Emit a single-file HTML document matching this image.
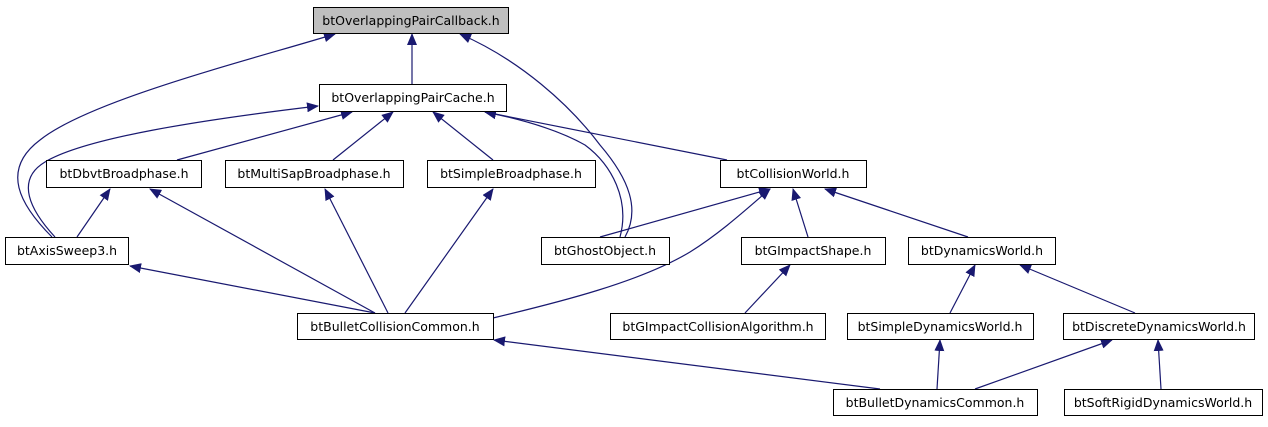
<!DOCTYPE html>
<html><head><meta charset="utf-8"><style>
html,body{margin:0;padding:0;background:#fff;}
svg{display:block;}
text{font-family:"DejaVu Sans","Liberation Sans",sans-serif;font-size:12.5px;fill:#000;}
</style></head><body>
<svg width="1268" height="427" viewBox="0 0 1268 427" xmlns="http://www.w3.org/2000/svg">
<defs><marker id="a" markerWidth="12" markerHeight="10" refX="11" refY="5" orient="auto" markerUnits="userSpaceOnUse"><polygon points="0,0 12,5 0,10" fill="#191970"/></marker></defs>
<g fill="none" stroke="#191970" stroke-width="1.2" marker-end="url(#a)">
<path d="M412,84 L412,34"/>
<path d="M52,237 C20,205 0,170 40,140 C90,100 250,60 335,34"/>
<path d="M625,237 C640,210 630,180 600,145 C570,105 520,60 460,34"/>
<path d="M55,237 C30,210 15,180 45,162 C85,138 200,120 318,106"/>
<path d="M177,160 L352,112"/>
<path d="M333,160 L393,112"/>
<path d="M493,160 L433,112"/>
<path d="M620,237 C630,200 612,165 585,145 C555,128 515,118 485,112"/>
<path d="M727,160 L485,112"/>
<path d="M77,237 L110,189"/>
<path d="M375,313 L150,189"/>
<path d="M388,313 L325,189"/>
<path d="M405,313 L493,189"/>
<path d="M375,313 L130,266"/>
<path d="M493,318 C560,302 640,282 690,252 C722,232 750,206 770,189"/>
<path d="M600,237 L770,189"/>
<path d="M808,237 L793,189"/>
<path d="M968,237 L825,189"/>
<path d="M745,313 L790,265"/>
<path d="M950,313 L975,265"/>
<path d="M1135,313 L1020,265"/>
<path d="M880,389 L494,340"/>
<path d="M937,389 L940,340"/>
<path d="M975,389 L1112,340"/>
<path d="M1161,389 L1158,340"/>
</g>
<g stroke="#000" stroke-width="1">
<rect x="313.5" y="7.5" width="195" height="26" fill="#bfbfbf"/>
<rect x="319.5" y="84.5" width="187" height="27" fill="#fff"/>
<rect x="46.5" y="160.5" width="155" height="27" fill="#fff"/>
<rect x="225.5" y="160.5" width="178" height="27" fill="#fff"/>
<rect x="427.5" y="160.5" width="168" height="27" fill="#fff"/>
<rect x="720.5" y="160.5" width="146" height="27" fill="#fff"/>
<rect x="5.5" y="237.5" width="123" height="27" fill="#fff"/>
<rect x="541.5" y="237.5" width="128" height="27" fill="#fff"/>
<rect x="741.5" y="237.5" width="144" height="27" fill="#fff"/>
<rect x="908.5" y="237.5" width="147" height="27" fill="#fff"/>
<rect x="297.5" y="313.5" width="196" height="26" fill="#fff"/>
<rect x="610.5" y="313.5" width="215" height="26" fill="#fff"/>
<rect x="847.5" y="313.5" width="186" height="26" fill="#fff"/>
<rect x="1063.5" y="313.5" width="191" height="26" fill="#fff"/>
<rect x="833.5" y="389.5" width="204" height="26" fill="#fff"/>
<rect x="1064.5" y="389.5" width="198" height="26" fill="#fff"/>
</g>
<g text-anchor="middle">
<text x="411" y="25">btOverlappingPairCallback.h</text>
<text x="413" y="102">btOverlappingPairCache.h</text>
<text x="124" y="178">btDbvtBroadphase.h</text>
<text x="314" y="178">btMultiSapBroadphase.h</text>
<text x="511" y="178">btSimpleBroadphase.h</text>
<text x="793" y="178">btCollisionWorld.h</text>
<text x="67" y="255">btAxisSweep3.h</text>
<text x="605" y="255">btGhostObject.h</text>
<text x="813" y="255">btGImpactShape.h</text>
<text x="982" y="255">btDynamicsWorld.h</text>
<text x="395" y="331">btBulletCollisionCommon.h</text>
<text x="718" y="331">btGImpactCollisionAlgorithm.h</text>
<text x="940" y="331">btSimpleDynamicsWorld.h</text>
<text x="1159" y="331">btDiscreteDynamicsWorld.h</text>
<text x="935" y="407">btBulletDynamicsCommon.h</text>
<text x="1163" y="407">btSoftRigidDynamicsWorld.h</text>
</g>
</svg>
</body></html>
